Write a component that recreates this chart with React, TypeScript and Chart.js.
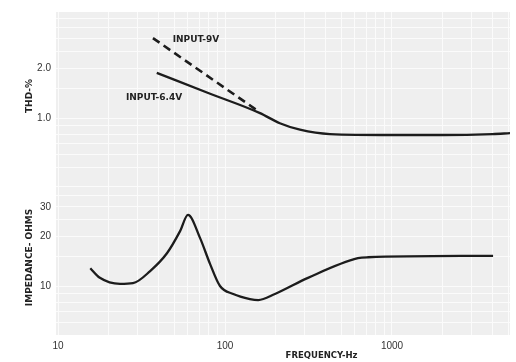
import React, { useEffect, useRef } from "react";
import { Chart, registerables } from "chart.js";

Chart.register(...registerables);

// THD curve, input 6.4 V (solid)
const thd64Freq = [39, 80, 162, 213, 281, 425, 1000, 2000, 4000, 5090];
const thd64Vals = [1.87, 1.41, 1.07, 0.93, 0.85, 0.8, 0.79, 0.79, 0.8, 0.81];
// THD curve, input 9 V (dashed)
const thd9Freq = [37, 158];
const thd9Vals = [3.03, 1.1];
// Impedance curve
const impFreq = [15.6, 17.8, 23.5, 28.1, 35.6, 45, 53.8, 60, 70.8, 81.3, 93.3, 112, 141, 158, 199, 314, 625, 718, 4030];
const impVals = [12.8, 11.2, 10.3, 10.4, 12.3, 15.8, 21.4, 26.8, 19.5, 13.6, 10.0, 8.95, 8.35, 8.23, 8.95, 11.2, 14.7, 14.9, 15.2];

const xTickLabels = [10, 100, 1000];
const thdTickLabels = [1, 2];
const impTickLabels = [10, 20, 30];

const xGrid = [10, 20, 30, 40, 50, 60, 70, 80, 90, 100, 200, 300, 400, 500, 600, 700, 800, 900, 1000, 2000, 3000, 4000, 5000];
const thdGrid = [0.5, 0.6, 0.7, 0.8, 0.9, 1, 1.5, 2, 2.5, 3, 3.5, 4];
const impGrid = [6, 7, 8, 9, 10, 15, 20, 25, 30, 35, 40];

const pts = (xs: number[], ys: number[]) => xs.map((x, i) => ({ x, y: ys[i] }));

const TICK_FONT = { family: "'Liberation Sans Narrow', 'Liberation Sans', sans-serif", size: 10 };
const BOLD_FONT = "bold 9px 'DejaVu Sans', sans-serif";
const GRID_COLOR = "#fbfbfb";

const bgPlugin = {
  id: "plotBg",
  beforeDraw(chart: any) {
    const { ctx, chartArea } = chart;
    ctx.save();
    ctx.fillStyle = "#efefef";
    ctx.fillRect(chartArea.left, chartArea.top, chartArea.right - chartArea.left, chartArea.bottom - chartArea.top);
    ctx.restore();
  },
};

const textPlugin = {
  id: "texts",
  afterDraw(chart: any) {
    const { ctx, chartArea, scales } = chart;
    ctx.save();
    ctx.fillStyle = "#222";
    ctx.font = BOLD_FONT;
    ctx.textAlign = "center";
    ctx.textBaseline = "middle";
    ctx.fillText("INPUT-9V", scales.x.getPixelForValue(67), scales.y.getPixelForValue(2.95));
    ctx.fillText("INPUT-6.4V", scales.x.getPixelForValue(37.6), scales.y.getPixelForValue(1.32));
    ctx.font = "bold 8.5px 'DejaVu Sans', sans-serif";
    ctx.fillText("FREQUENCY-Hz", chartArea.left + 0.585 * (chartArea.right - chartArea.left), 356);
    ctx.restore();
  },
};

export default function App() {
  const ref = useRef<HTMLCanvasElement>(null);
  useEffect(() => {
    document.body.style.margin = "0";
    const canvas = ref.current!;
    const lineBase = {
      borderColor: "#1c1c1c",
      borderWidth: 2.3,
      pointRadius: 0,
      fill: false,
      cubicInterpolationMode: "monotone" as const,
    };
    const chart = new Chart(canvas, {
      type: "line",
      data: {
        datasets: [
          { ...lineBase, label: "INPUT-6.4V", data: pts(thd64Freq, thd64Vals), yAxisID: "y" },
          { ...lineBase, label: "INPUT-9V", data: pts(thd9Freq, thd9Vals), yAxisID: "y", borderDash: [8, 5], borderWidth: 2.6 },
          { ...lineBase, label: "IMPEDANCE", data: pts(impFreq, impVals), yAxisID: "y2" },
        ],
      },
      plugins: [bgPlugin, textPlugin],
      options: {
        animation: false,
        responsive: false,
        parsing: true,
        layout: { padding: { top: 12, right: 6, left: 0, bottom: 0 } },
        plugins: { legend: { display: false }, tooltip: { enabled: false } },
        scales: {
          x: {
            type: "logarithmic",
            min: 9.72,
            max: 5090,
            afterBuildTicks: (s: any) => {
              s.ticks = xGrid.map((v) => ({ value: v }));
            },
            afterFit: (s: any) => {
              s.height = 27;
            },
            ticks: {
              autoSkip: false,
              maxRotation: 0,
              padding: 5,
              color: "#333",
              font: TICK_FONT,
              callback: (v: any) => (xTickLabels.includes(Number(v)) ? String(v) : ""),
            },
            grid: { color: GRID_COLOR, lineWidth: 1, drawTicks: false },
            border: { display: false },
          },
          y2: {
            type: "logarithmic",
            position: "left",
            stack: "left",
            stackWeight: 155,
            min: 5.068,
            max: 43.51,
            afterBuildTicks: (s: any) => {
              s.ticks = impGrid.map((v) => ({ value: v }));
            },
            afterFit: (s: any) => {
              s.width = 56;
            },
            ticks: {
              autoSkip: false,
              padding: 5,
              color: "#333",
              font: TICK_FONT,
              callback: (v: any) => (impTickLabels.includes(Number(v)) ? String(v) : ""),
            },
            grid: { color: GRID_COLOR, lineWidth: 1, drawTicks: false },
            border: { display: false },
            title: {
              display: true,
              text: "IMPEDANCE- OHMS",
              color: "#222",
              font: { family: "'DejaVu Sans', sans-serif", size: 9, weight: "bold" },
              padding: { top: 24, bottom: 0 },
            },
          },
          y: {
            type: "logarithmic",
            position: "left",
            stack: "left",
            stackWeight: 168,
            min: 0.4232,
            max: 4.351,
            afterBuildTicks: (s: any) => {
              s.ticks = thdGrid.map((v) => ({ value: v }));
            },
            afterFit: (s: any) => {
              s.width = 56;
            },
            ticks: {
              autoSkip: false,
              padding: 5,
              color: "#333",
              font: TICK_FONT,
              callback: (v: any) => (thdTickLabels.includes(Number(v)) ? Number(v).toFixed(1) : ""),
            },
            grid: { color: GRID_COLOR, lineWidth: 1, drawTicks: false },
            border: { display: false },
            title: {
              display: true,
              text: "THD-%",
              color: "#222",
              font: { family: "'DejaVu Sans', sans-serif", size: 9, weight: "bold" },
              padding: { top: 24, bottom: 0 },
            },
          },
        },
      },
    } as any);
    return () => chart.destroy();
  }, []);
  return (
    <div style={{ position: "fixed", left: 0, top: 0, width: 516, height: 362 }}>
      <canvas ref={ref} width={516} height={362} style={{ display: "block" }} />
    </div>
  );
}
